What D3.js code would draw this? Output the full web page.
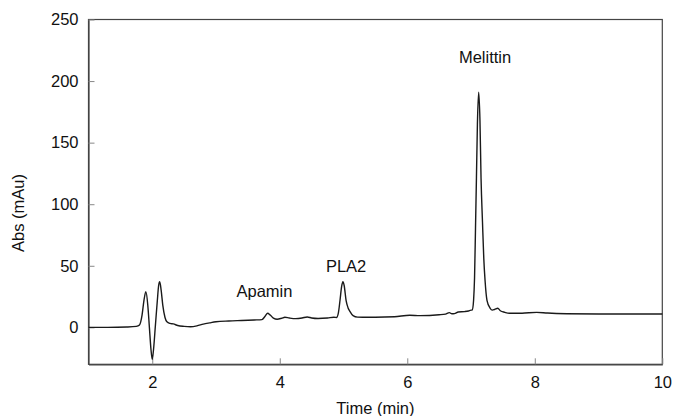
<!DOCTYPE html>
<html>
<head>
<meta charset="utf-8">
<script src="https://cdn.jsdelivr.net/npm/d3@7"></script>
<style>
  html, body { margin: 0; padding: 0; background: #fff; }
  svg { display: block; font-family: "Liberation Sans", Arial, Helvetica, sans-serif; }
</style>
</head>
<body>
<svg id="chart" width="675" height="416"></svg>
<script>
// Chromatogram trace: time (min)
const times = [
  1.00, 1.30, 1.60, 1.75, 1.80, 1.84, 1.87, 1.90, 1.93, 1.955, 1.98, 2.00, 2.02, 2.05, 2.08, 2.10, 2.117, 2.14, 2.165, 2.20,
  2.23, 2.28, 2.33, 2.40, 2.50, 2.60, 2.70, 2.80, 2.90, 3.00, 3.20, 3.40, 3.60, 3.72, 3.77, 3.81, 3.85, 3.90, 3.96, 4.03,
  4.08, 4.15, 4.25, 4.35, 4.43, 4.50, 4.60, 4.75, 4.85, 4.89, 4.92, 4.945, 4.97, 4.99, 5.01, 5.04, 5.07, 5.10, 5.15, 5.22,
  5.30, 5.50, 5.80, 6.04, 6.20, 6.50, 6.60, 6.66, 6.70, 6.74, 6.80, 6.90, 6.96, 7.00, 7.02, 7.04, 7.055, 7.07, 7.085, 7.10,
  7.12, 7.14, 7.157, 7.18, 7.20, 7.22, 7.25, 7.30, 7.334, 7.37, 7.42, 7.46, 7.53, 7.60, 7.80, 8.03, 8.20, 8.50, 9.00, 9.50,
  10.00
];
// Absorbance (mAu)
const absorbance = [
  0, 0, 0.3, 0.8, 2, 10, 22, 29, 18, 0, -18, -26, -18, 2, 22, 34, 37, 30, 18, 8,
  4.5, 3.2, 2.8, 1.5, 0.8, 0.5, 1.2, 2.6, 3.6, 4.5, 5.2, 5.6, 6, 6.3, 9, 11.5, 10, 7.5, 6.6, 7.4,
  8.2, 7.6, 7.1, 7.6, 8.4, 7.6, 7.2, 7.6, 8.2, 8, 12, 22, 33, 37, 34, 22, 16, 13, 9.5, 8.3,
  8.2, 8.2, 8.6, 9.8, 9.5, 10.2, 10.8, 12, 11, 11.2, 12.5, 12.8, 13.3, 14, 14, 22, 40, 80, 122, 165,
  191, 168, 121, 85, 56, 38, 22, 15.5, 14, 14.5, 15.5, 13.5, 12.2, 11.4, 11.5, 12.2, 11.6, 11.1, 10.9, 10.9,
  10.9
];
const xTicks = [2, 4, 6, 8, 10];
const yTicks = [0, 50, 100, 150, 200, 250];
const peakNames = ["Apamin", "PLA2", "Melittin"];
const peakTimes = [3.76, 5.04, 7.22];
const peakLabelValues = [25, 45, 215];

const W = 675, H = 416;
const margin = { left: 88.5, right: 12.7, top: 19.5, bottom: 51.7 };
const svg = d3.select("#chart");
const x = d3.scaleLinear().domain([1, 10]).range([margin.left, W - margin.right]);
const y = d3.scaleLinear().domain([-30, 250]).range([H - margin.bottom, margin.top]);

const axisColor = "#444";
const fontSize = "16.5px";

// frame
svg.append("rect")
  .attr("x", x(1)).attr("y", y(250))
  .attr("width", x(10) - x(1)).attr("height", y(-30) - y(250))
  .attr("fill", "none").attr("stroke", axisColor).attr("stroke-width", 1.2);

const gx = svg.append("g").attr("transform", `translate(0,${y(-30)})`)
  .call(d3.axisBottom(x).tickValues(xTicks).tickFormat(d3.format("d")).tickSize(-6).tickSizeOuter(0).tickPadding(12));
const gy = svg.append("g").attr("transform", `translate(${x(1)},0)`)
  .call(d3.axisLeft(y).tickValues(yTicks).tickFormat(d3.format("d")).tickSize(-6).tickSizeOuter(0).tickPadding(10));

[gx, gy].forEach(g => {
  g.select(".domain").attr("stroke", axisColor).attr("stroke-width", 1.2);
  g.selectAll(".tick line").attr("stroke", "#888").attr("stroke-width", 1);
  g.selectAll(".tick text").attr("fill", "#111").style("font-size", fontSize)
    .style("font-family", '"Liberation Sans", Arial, sans-serif');
});

// trace
const data = times.map((t, i) => [t, absorbance[i]]);
const line = d3.line().x(d => x(d[0])).y(d => y(d[1])).curve(d3.curveMonotoneX);
svg.append("path").datum(data)
  .attr("d", line)
  .attr("fill", "none").attr("stroke", "#1a1a1a").attr("stroke-width", 1.4)
  .attr("stroke-linejoin", "round");

// peak labels
svg.selectAll("text.peak").data(peakNames).enter().append("text")
  .attr("class", "peak")
  .attr("x", (d, i) => x(peakTimes[i]))
  .attr("y", (d, i) => y(peakLabelValues[i]))
  .attr("text-anchor", "middle")
  .attr("fill", "#111")
  .style("font-size", fontSize)
  .text(d => d);

// axis titles
svg.append("text")
  .attr("x", (x(1) + x(10)) / 2).attr("y", 414)
  .attr("text-anchor", "middle").attr("fill", "#111").style("font-size", fontSize)
  .text("Time (min)");
svg.append("text")
  .attr("transform", `translate(24,213) rotate(-90)`)
  .attr("text-anchor", "middle").attr("fill", "#111").style("font-size", fontSize)
  .text("Abs (mAu)");
</script>
</body>
</html>
